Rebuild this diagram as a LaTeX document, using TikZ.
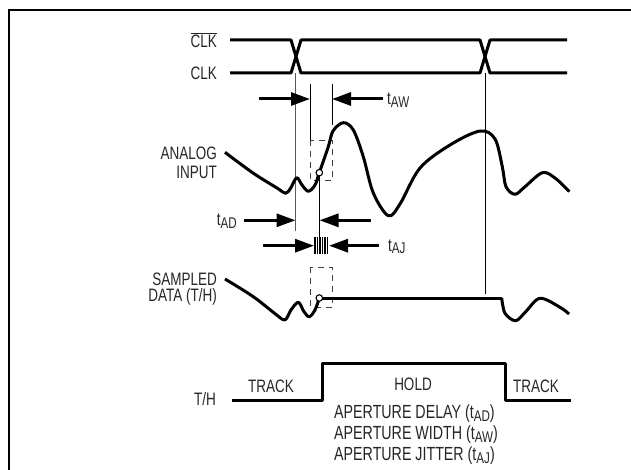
\documentclass[tikz,border=0pt]{standalone}
\usepackage{fontspec}
\setmainfont[FakeStretch=0.75]{Liberation Sans}
\usetikzlibrary{arrows.meta,positioning}

\newcommand{\tsub}[1]{t\raisebox{-2.5pt}{\fontsize{15.5}{18}\selectfont #1}}
\begin{document}
\begin{tikzpicture}[
    x=1pt, y=-1pt,
    lbl/.style={inner sep=0pt, font=\fontsize{18}{20}\selectfont, text=black!85},
    longlbl/.style={lbl, anchor=west, font=\fontsize{19}{20}\selectfont},
    wave/.style={line width=3pt, line join=round},
    thin line/.style={line width=1pt},
    graybar/.style={line width=1.1pt, black!65},
    dashbox/.style={draw, black!75, line width=1pt, dash pattern=on 6pt off 5pt},
    arrow/.style={line width=3pt, -{Triangle[length=19pt, width=13pt]}},
    sample/.style={circle, draw, fill=white, line width=1.1pt, inner sep=0pt, minimum size=6.5pt}
]
\useasboundingbox (0,0) rectangle (631,470);
\coordinate (frameA) at (9,470);
\coordinate (frameB) at (9,10);
\coordinate (frameC) at (631,10);
\draw[line width=2.4pt] (frameA) -- (frameB) -- (frameC);

% clock pair
\node[lbl, anchor=east] (clkbar) at (217,40) {$\overline{\mbox{CLK}}$};
\node[lbl, anchor=east] (clk) at (217,73) {CLK};
\draw[graybar] (295.5,73) -- (295.5,231);
\draw[thin line] (485,73) -- (485,294);
\draw[wave] (230,40) -- (291,40) -- (301,73) -- (480,73) -- (490,40) -- (567,40);
\draw[wave] (230,73) -- (291,73) -- (301,40) -- (480,40) -- (490,73) -- (567,73);

% aperture width
\draw[thin line] (310,84) -- (310,140);
\draw[thin line] (332,84) -- (332,125);
\coordinate (awL) at (259,99);
\coordinate (awR) at (383,99);
\coordinate (awA) at (310,99);
\coordinate (awB) at (332,99);
\draw[arrow] (awL) -- (awA);
\draw[arrow] (awR) -- (awB);
\node[lbl, anchor=west] (taw) at (387,100) {\tsub{AW}};

% analog input
\node[lbl, anchor=east] (analog) at (217,153) {ANALOG};
\node[lbl, anchor=east] (input) at (217,172) {INPUT};
\draw[dashbox] (310.5,140.5) rectangle (332,181);
\draw[wave] plot[smooth, tension=0.55] coordinates {(225,152.3) (253,173) (277,188) (285.7,193.3) (290.7,188) (296.7,177.7) (302,185) (308.3,191.3) (315,185) (319.3,172.7) (328.3,146.7) (333,131) (343.3,122.7) (353.3,130) (363.3,156.7) (373.3,193) (388.3,215.7) (400,204) (420,168) (450,145) (480,131) (495,139) (502.3,166.7) (506,186.7) (515,194.3) (525,186.7) (542.3,172.7) (555,178) (569.3,191.7)};
\node[sample] (samp1) at (319.3,172.7) {};
\draw[thin line] (samp1) -- (319.3,237);

% delay
\node[lbl, anchor=east] (tad) at (237,221) {\tsub{AD}};
\coordinate (adL) at (244,220.3);
\coordinate (adR) at (370.7,220.3);
\coordinate (adA) at (295.5,220.3);
\coordinate (adB) at (319.5,220.3);
\draw[arrow] (adL) -- (adA);
\draw[arrow] (adR) -- (adB);

% jitter
\coordinate (ajL) at (263,245.7);
\coordinate (ajR) at (379,245.7);
\coordinate (ajA) at (314,245.7);
\coordinate (ajB) at (329,245.7);
\draw[arrow] (ajL) -- (ajA);
\draw[arrow] (ajR) -- (ajB);
\foreach \jx in {315,317.5,320,322.5,325,327.5}
    \draw[line width=1.3pt] (\jx,237) -- (\jx,254);
\node[lbl, anchor=west] (taj) at (388,247) {\tsub{AJ}};

% sampled data
\node[lbl, anchor=east] (sampled) at (217,279) {SAMPLED};
\node[lbl, anchor=east] (data) at (217,297) {DATA (T/H)};
\draw[dashbox] (310.5,267) rectangle (332,307);
\draw[wave] plot[smooth, tension=0.55] coordinates {(225,279) (253.3,296.7) (276.7,315) (285,320) (291,310) (298.3,302.3) (304,311.7) (309.3,316.7) (315,310) (319.3,298)};
\draw[wave] (319.3,298) -- (501.7,298);
\draw[wave] plot[smooth, tension=0.55] coordinates {(501.7,298) (505,313.3) (515.7,320.7) (525.7,311.7) (540,298.3) (560,307.3) (569,314)};
\node[sample] (samp2) at (319.3,298) {};

% track and hold
\node[lbl, anchor=east] (th) at (216,399) {T/H};
\draw[wave] (232,400) -- (322,400) -- (322,363) -- (505,363) -- (505,400) -- (571,400);
\node[lbl] (track1) at (271,386) {TRACK};
\node[lbl] (hold) at (413,384) {HOLD};
\node[lbl] (track2) at (536,386) {TRACK};
\node[longlbl] (apd) at (334,414) {APERTURE DELAY (\tsub{AD})};
\node[longlbl] (apw) at (334,435) {APERTURE WIDTH (\tsub{AW})};
\node[longlbl] (apj) at (334,456) {APERTURE JITTER (\tsub{AJ})};
\end{tikzpicture}
\end{document}
